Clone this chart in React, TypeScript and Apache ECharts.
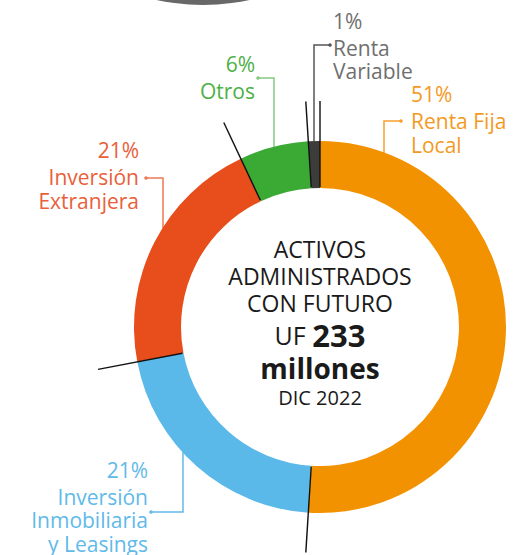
import React, { useEffect, useRef } from 'react';
import * as echarts from 'echarts';

// ---------- data ----------
const categories = [
  'Renta Fija\nLocal',
  'Inversión\nInmobiliaria\ny Leasings',
  'Inversión\nExtranjera',
  'Otros',
  'Renta\nVariable',
];
const values = [51, 21, 21, 6, 1];
const centerTitleLines = ['ACTIVOS', 'ADMINISTRADOS', 'CON FUTURO'];
const totalPrefix = 'UF';
const totalValue = '233';
const totalUnit = 'millones';
const dateLabel = 'DIC 2022';

// ---------- styles ----------
const sliceColors = ['#F39200', '#5BB9EA', '#E84E1B', '#3AAA35', '#3C3C3B'];
const textColors = ['#F39A1E', '#5FBAE9', '#E9603A', '#4DB046', '#6F6F6E'];
const leaderColors = ['#F5A030', '#63BBE9', '#EE7A55', '#86C982', '#555555'];
const FONT = '"Open Sans", "Noto Sans", sans-serif';

// ---------- layout ----------
const CX = 320;
const CY = 327;
const R_IN = 139;
const R_OUT = 186;
const R_TICK = 226;

const labelAnchors: any[] = [
  { x: 411, y: 79, align: 'left', lh: 24, line: [[384, 153], [384, 121], [401, 121]] },
  { x: 148, y: 455, align: 'right', lh: 23.5, line: [[183, 452], [183, 512], [151, 512]] },
  { x: 139, y: 135, align: 'right', lh: 24, line: [[163, 228], [163, 178], [146, 178]] },
  { x: 255, y: 49, align: 'right', lh: 24, line: [[274, 148], [274, 78], [258, 78]] },
  { x: 333, y: 6, align: 'left', lh: 23.5, line: [[314, 142], [314, 45], [330, 45]] },
];

export default function App() {
  const ref = useRef<HTMLDivElement>(null);

  useEffect(() => {
    if (!ref.current) return;
    const chart = echarts.init(ref.current, null, { renderer: 'svg' });

    const total = values.reduce((a, b) => a + b, 0);
    // boundary angles (clockwise from top)
    const bounds: number[] = [];
    let acc = 0;
    for (let i = 0; i < values.length; i++) {
      bounds.push((acc / total) * 360);
      acc += values[i];
    }
    const tickLines = bounds.map((deg) => {
      const rad = (deg * Math.PI) / 180;
      const sx = Math.sin(rad);
      const sy = -Math.cos(rad);
      return {
        type: 'line',
        z: 50,
        shape: {
          x1: CX + sx * (R_IN + 1),
          y1: CY + sy * (R_IN + 1),
          x2: CX + sx * R_TICK,
          y2: CY + sy * R_TICK,
        },
        style: { stroke: '#111', lineWidth: 1.4 },
      };
    });

    const dots = labelAnchors.map((a, i) => ({
      type: 'circle',
      z: 50,
      shape: { cx: a.line[2][0], cy: a.line[2][1], r: 1.8 },
      style: { fill: leaderColors[i] },
    }));

    const centerText = {
      type: 'text',
      z: 50,
      x: CX,
      y: 235.5,
      style: {
        text:
          centerTitleLines.map((t) => `{t|${t}}`).join('\n') +
          `\n{a|${totalPrefix} }{b|${totalValue}}` +
          `\n{c|${totalUnit}}` +
          `\n{d|${dateLabel}}`,
        align: 'center',
        verticalAlign: 'top',
        fill: '#1a1a1a',
        rich: {
          t: { fontFamily: FONT, fontSize: 23, fontWeight: 400, fill: '#1a1a1a', lineHeight: 27 },
          a: { fontFamily: FONT, fontSize: 25, fontWeight: 400, fill: '#1a1a1a', lineHeight: 37 },
          b: { fontFamily: FONT, fontSize: 31, fontWeight: 700, fill: '#1a1a1a', lineHeight: 37 },
          c: { fontFamily: FONT, fontSize: 28, fontWeight: 700, fill: '#1a1a1a', lineHeight: 29 },
          d: { fontFamily: FONT, fontSize: 20, fontWeight: 400, fill: '#1a1a1a', lineHeight: 29 },
        },
      },
    };

    const option: any = {
      animation: false,
      backgroundColor: '#ffffff',
      graphic: [
        {
          type: 'circle',
          z: 1,
          shape: { cx: 203, cy: -215, r: 220 },
          style: { fill: '#686868' },
        },
        ...tickLines,
        ...dots,
        centerText,
      ],
      series: [
        {
          type: 'pie',
          center: [CX, CY],
          radius: [R_IN, R_OUT],
          startAngle: 90,
          clockwise: true,
          avoidLabelOverlap: false,
          silent: true,
          emphasis: { disabled: true },
          itemStyle: { borderWidth: 0 },
          labelLine: { show: true, length: 10, length2: 10, smooth: false, lineStyle: { width: 1.5 } },
          labelLayout: (params: any) => {
            const a = labelAnchors[params.dataIndex];
            return {
              x: a.x,
              y: a.y,
              align: a.align,
              verticalAlign: 'top',
              labelLinePoints: a.line,
              hideOverlap: false,
              moveOverlap: false,
            };
          },
          data: values.map((v, i) => ({
            name: categories[i],
            value: v,
            itemStyle: { color: sliceColors[i] },
            labelLine: { lineStyle: { color: leaderColors[i], width: 1.5 } },
            label: {
              show: true,
              color: textColors[i],
              fontFamily: FONT,
              formatter: (p: any) =>
                `{p|${p.value}%}\n` +
                String(p.name)
                  .split('\n')
                  .map((s: string) => `{n|${s}}`)
                  .join('\n'),
              rich: {
                p: { fontFamily: FONT, fontSize: 21, fontWeight: 500, lineHeight: 30, color: textColors[i], align: labelAnchors[i].align },
                n: { fontFamily: FONT, fontSize: 21, fontWeight: 500, lineHeight: labelAnchors[i].lh, color: textColors[i], align: labelAnchors[i].align },
              },
            },
          })),
        },
      ],
    };

    chart.setOption(option);
    return () => chart.dispose();
  }, []);

  return (
    <div
      ref={ref}
      style={{ position: 'absolute', left: 0, top: 0, width: 532, height: 555 }}
    />
  );
}
